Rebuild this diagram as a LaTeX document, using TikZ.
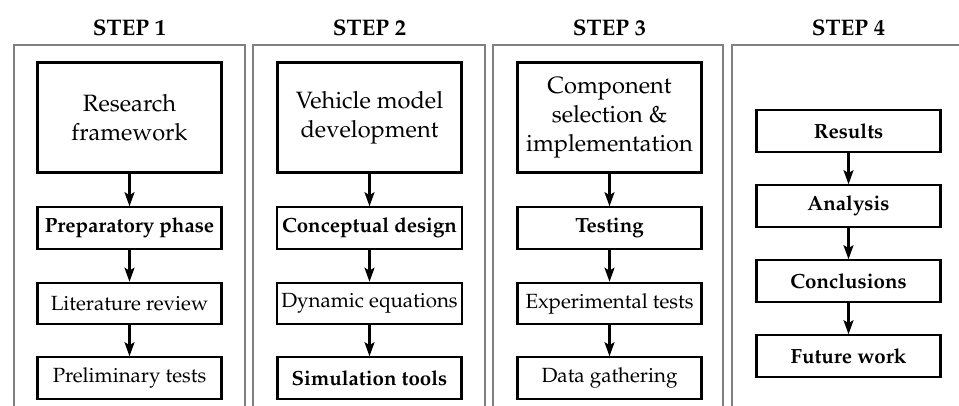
\documentclass[tikz,border=0pt]{standalone}
\usepackage[T1]{fontenc}
\usepackage{mathpazo}
\usetikzlibrary{arrows.meta}
\begin{document}
\begin{tikzpicture}[x=0.25cm,y=-0.25cm,
  frame/.style={draw=gray,line width=1.5pt},
  bigbox/.style={draw,line width=1.5pt,minimum width=4.6cm,minimum height=2.75cm,align=center,font=\fontsize{16.8}{20.5}\selectfont},
  smallbox/.style={draw,line width=1.5pt,minimum width=4.6cm,minimum height=1.03cm,font=\fontsize{14.6}{18}\selectfont},
  steplabel/.style={font=\bfseries\fontsize{16}{19}\selectfont},
  flow/.style={-{Stealth[length=10pt,width=7pt,inset=2pt]},line width=1.9pt}]
  \useasboundingbox(0,0)rectangle(95.9,40.5);
  \draw[frame](1.4,40.6)--(1.4,4.5)--(24.5,4.5)--(24.5,40.6);
  \draw[frame](25.3,40.6)--(25.3,4.5)--(48.5,4.5)--(48.5,40.6);
  \draw[frame](49.3,40.6)--(49.3,4.5)--(72.3,4.5)--(72.3,40.6);
  \draw[frame](73.2,40.6)--(73.2,4.5)--(97,4.5);
  \node[steplabel](step1) at (12.95,2.8){STEP 1};
  \node[steplabel](step2) at (36.95,2.8){STEP 2};
  \node[steplabel](step3) at (60.95,2.8){STEP 3};
  \node[steplabel](step4) at (84.85,2.8){STEP 4};
  \node[bigbox](frame1) at (12.95,11.75){Research\\framework};
  \node[smallbox](prep) at (12.95,22.8){\bfseries Preparatory phase};
  \node[smallbox](lit) at (12.95,30.35){Literature review};
  \node[smallbox](pre) at (12.95,37.8){Preliminary tests};
  \node[bigbox](model) at (36.95,11.75){Vehicle model\\development};
  \node[smallbox](concept) at (36.95,22.8){\bfseries Conceptual design};
  \node[smallbox](dyn) at (36.95,30.35){Dynamic equations};
  \node[smallbox](sim) at (36.95,37.8){\bfseries Simulation tools};
  \node[bigbox](comp) at (60.95,11.75){Component\\selection \&\\implementation};
  \node[smallbox](test) at (60.95,22.8){\bfseries Testing};
  \node[smallbox](exp) at (60.95,30.35){Experimental tests};
  \node[smallbox](data) at (60.95,37.8){Data gathering};
  \node[smallbox](res) at (84.85,13.1){\bfseries Results};
  \node[smallbox](ana) at (84.85,20.6){\bfseries Analysis};
  \node[smallbox](conc) at (84.85,28.1){\bfseries Conclusions};
  \node[smallbox](fut) at (84.85,35.6){\bfseries Future work};
  \draw[flow](frame1)--(prep);
  \draw[flow](prep)--(lit);
  \draw[flow](lit)--(pre);
  \draw[flow](model)--(concept);
  \draw[flow](concept)--(dyn);
  \draw[flow](dyn)--(sim);
  \draw[flow](comp)--(test);
  \draw[flow](test)--(exp);
  \draw[flow](exp)--(data);
  \draw[flow](res)--(ana);
  \draw[flow](ana)--(conc);
  \draw[flow](conc)--(fut);
\end{tikzpicture}
\end{document}
